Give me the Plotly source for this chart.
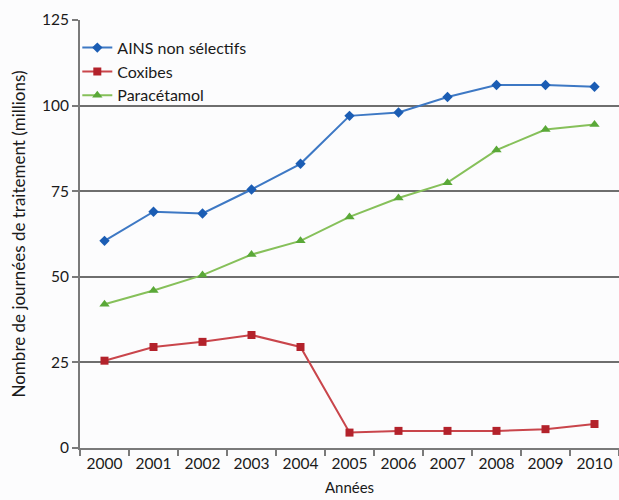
import plotly.graph_objects as go

years = ["2000", "2001", "2002", "2003", "2004", "2005", "2006", "2007", "2008", "2009", "2010"]
ains = [60.5, 69, 68.5, 75.5, 83, 97, 98, 102.5, 106, 106, 105.5]
coxibes = [25.5, 29.5, 31, 33, 29.5, 4.5, 5, 5, 5, 5.5, 7]
paracetamol = [42, 46, 50.5, 56.5, 60.5, 67.5, 73, 77.5, 87, 93, 94.5]
y_ticks = [0, 25, 50, 75, 100, 125]

font_family = "Lato, 'Open Sans', sans-serif"

fig = go.Figure()
fig.add_trace(go.Scatter(
    x=years, y=ains, name="AINS non sélectifs", mode="lines+markers",
    line=dict(color="#3d78c4", width=2),
    marker=dict(symbol="diamond", size=8, color="#1b5db4"),
))
fig.add_trace(go.Scatter(
    x=years, y=coxibes, name="Coxibes", mode="lines+markers",
    line=dict(color="#c9454b", width=2),
    marker=dict(symbol="square", size=8, color="#b3222b"),
))
fig.add_trace(go.Scatter(
    x=years, y=paracetamol, name="Paracétamol", mode="lines+markers",
    line=dict(color="#86c05a", width=2),
    marker=dict(symbol="triangle-up", size=9, color="#5aa838"),
))

fig.update_layout(
    width=619, height=500,
    margin=dict(l=80, r=0, t=20, b=52),
    paper_bgcolor="#fcfcfd",
    plot_bgcolor="#fcfcfd",
    font=dict(family=font_family, size=15, color="#1a1a1a"),
    showlegend=True,
    legend=dict(
        x=-0.005, y=0.975, xanchor="left", yanchor="top",
        bgcolor="rgba(0,0,0,0)", font=dict(size=16, color="#1a1a1a"),
        tracegroupgap=0, itemwidth=30,
    ),
    xaxis=dict(
        type="category", range=[-0.5, 10.5],
        showline=True, linecolor="#7a7a7a", linewidth=2,
        ticks="outside", tickson="boundaries", ticklen=6, tickwidth=2, tickcolor="#7a7a7a",
        showgrid=False, zeroline=False,
        tickfont=dict(size=15.5),
        title=dict(text="Années", font=dict(size=15), standoff=12),
    ),
    yaxis=dict(
        range=[0, 125], tickvals=y_ticks,
        showline=True, linecolor="#7a7a7a", linewidth=2,
        ticks="outside", ticklen=6, tickwidth=2, tickcolor="#7a7a7a",
        showgrid=True, gridcolor="#6e6e6e", gridwidth=2,
        zeroline=False,
        tickfont=dict(size=15.5),
        title=dict(text="Nombre de journées de traitement (millions)", font=dict(size=17), standoff=12),
    ),
)

fig.write_html("out.html")
